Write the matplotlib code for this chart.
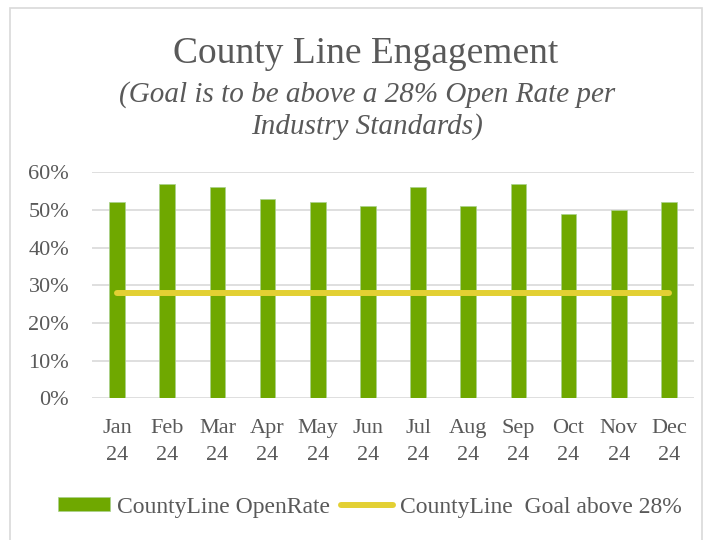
import numpy as np
from matplotlib import pyplot as plt
from matplotlib.patches import Rectangle
from matplotlib.ticker import PercentFormatter

months = ["Jan\n24", "Feb\n24", "Mar\n24", "Apr\n24", "May\n24", "Jun\n24",
          "Jul\n24", "Aug\n24", "Sep\n24", "Oct\n24", "Nov\n24", "Dec\n24"]
open_rate = [0.52, 0.57, 0.56, 0.53, 0.52, 0.51, 0.56, 0.51, 0.57, 0.49, 0.50, 0.52]
goal = [0.28] * 12

green = "#6FA800"
yellow = "#E3D033"
grey = "#595959"

plt.rcParams['font.family'] = ['Liberation Serif', 'DejaVu Serif']

fig = plt.figure(figsize=(7.08, 5.4), dpi=100)
fig.patches.append(Rectangle((10 / 708, -0.05), 692 / 708, 1.05 - 8 / 540,
                             transform=fig.transFigure, fill=False,
                             edgecolor="#D9D9D9", linewidth=1.2))

ax = fig.add_axes([92 / 708, 1 - 398.3 / 540, 602 / 708, 226 / 540])
x = np.arange(len(months))
bars = ax.bar(x, open_rate, width=0.31, color=green, edgecolor="#A9D18E",
              linewidth=0.5, label="CountyLine OpenRate", zorder=2)
line, = ax.plot(x, goal, color=yellow, linewidth=4.3, solid_capstyle="round",
                label="CountyLine  Goal above 28%", zorder=3)

ax.set_xlim(-0.5, 11.5)
ax.set_ylim(0, 0.6)
ax.set_yticks(np.arange(0, 0.61, 0.1))
ax.yaxis.set_major_formatter(PercentFormatter(1.0, decimals=0))
ax.set_xticks(x)
ax.set_xticklabels(months, linespacing=1.55)
ax.grid(axis="y", color="#D9D9D9", linewidth=1.2, zorder=0)
ax.set_axisbelow(True)
for s in ax.spines.values():
    s.set_visible(False)
ax.tick_params(axis="both", length=0, labelsize=16, labelcolor=grey)
ax.tick_params(axis="y", pad=16.5)
ax.tick_params(axis="x", pad=15)

fig.text(366 / 708, 1 - 63 / 540, "County Line Engagement", ha="center",
         va="baseline", fontsize=27, color=grey)
fig.text(367 / 708, 1 - 102 / 540, "(Goal is to be above a 28% Open Rate per",
         ha="center", va="baseline", fontsize=21, style="italic", color=grey)
fig.text(367 / 708, 1 - 134 / 540, "Industry Standards)",
         ha="center", va="baseline", fontsize=21, style="italic", color=grey)

fig.legend([bars, line], ["CountyLine OpenRate", "CountyLine  Goal above 28%"],
           loc="center", bbox_to_anchor=(370 / 708, 1 - 507 / 540), ncol=2,
           frameon=False, fontsize=17, labelcolor=grey, handlelength=2.2,
           handleheight=0.5, handletextpad=0.3, columnspacing=0.45,
           borderpad=0, borderaxespad=0)

fig.savefig("out.png", dpi=100)
